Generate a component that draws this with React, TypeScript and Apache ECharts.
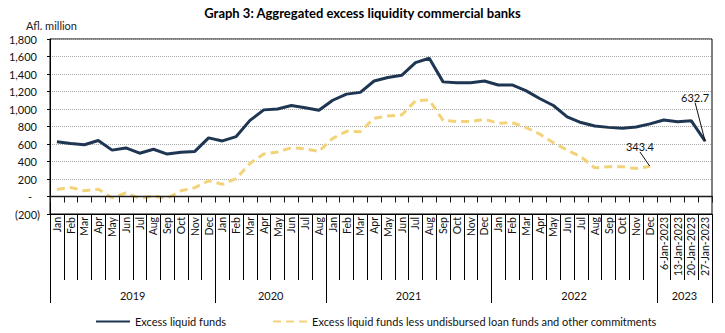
import React, { useEffect, useRef } from 'react';
import * as echarts from 'echarts';

const months2019 = ['Jan', 'Feb', 'Mar', 'Apr', 'May', 'Jun', 'Jul', 'Aug', 'Sep', 'Oct', 'Nov', 'Dec'];
const months2020 = ['Jan', 'Feb', 'Mar', 'Apr', 'May', 'Jun', 'Jul', 'Aug'];
const months2021 = ['Jan', 'Feb', 'Mar', 'Apr', 'May', 'Jun', 'Jul', 'Aug', 'Sep', 'Oct', 'Nov', 'Dec'];
const months2022 = ['Jan', 'Feb', 'Mar', 'Apr', 'May', 'Jun', 'Jul', 'Aug', 'Sep', 'Oct', 'Nov', 'Dec'];
const weeks2023 = ['6-Jan-2023', '13-Jan-2023', '20-Jan-2023', '27-Jan-2023'];

const yearNames = ['2019', '2020', '2021', '2022', '2023'];
const yearGroups = [months2019, months2020, months2021, months2022, weeks2023];

const categories = ([] as string[]).concat(...yearGroups);

const excessLiquidFunds = [
  625, 607, 592, 640, 530, 555, 495, 540, 485, 505, 515, 670,
  635, 685, 870, 990, 1000, 1040, 1015, 985,
  1100, 1170, 1190, 1320, 1360, 1385, 1530, 1580, 1310, 1300, 1300, 1320,
  1275, 1275, 1210, 1120, 1040, 910, 845, 805, 790, 780, 795, 830,
  875, 855, 865, 632.7,
];

const excessLessCommitments = [
  80, 103, 65, 84, -15, 40, -20, 5, -20, 65, 100, 180,
  140, 205, 378, 485, 508, 557, 546, 516,
  665, 745, 741, 894, 921, 932, 1093, 1104, 870, 856, 856, 883,
  837, 844, 791, 714, 615, 531, 454, 328, 340, 340, 321, 343.4,
];

const NAVY = '#1f3653';
const YELLOW = '#f3d37a';
const FONT = 'Lato, "Open Sans", "Noto Sans", sans-serif';

const fmtNum = (v: number) => v.toLocaleString('en-US');

export default function App() {
  const ref = useRef<HTMLDivElement>(null);

  useEffect(() => {
    if (!ref.current) return;
    const chart = echarts.init(ref.current, null, { renderer: 'svg' });

    // year group boundaries and centres, in month-slot units
    const boundaries: number[] = [0];
    yearGroups.forEach((g) => boundaries.push(boundaries[boundaries.length - 1] + g.length));
    const centers = yearGroups.map((g, i) => boundaries[i] + g.length / 2);
    const total = boundaries[boundaries.length - 1];

    const labelItem = (arr: number[]) =>
      arr.map((v, i) =>
        i === arr.length - 1
          ? {
              value: v,
              symbol: 'circle',
              symbolSize: 1,
              label: { show: true, position: 'top', fontSize: 11, color: '#111', fontFamily: FONT },
            }
          : v
      );

    const option: any = {
      animation: false,
      textStyle: { fontFamily: FONT },
      title: [
        {
          text: 'Graph 3: Aggregated excess liquidity commercial banks',
          left: 'center',
          top: 1,
          textStyle: { fontSize: 13, fontWeight: 'bold', color: '#000', fontFamily: FONT },
        },
        {
          text: 'Afl. million',
          left: 21,
          top: 15,
          textStyle: { fontSize: 11, fontWeight: 'normal', color: '#222', fontFamily: FONT },
        },
      ],
      grid: {
        left: 50,
        right: 13,
        top: 39,
        bottom: 119,
        show: true,
        borderColor: '#000',
        borderWidth: 1,
        backgroundColor: 'transparent',
      },
      legend: {
        left: 90,
        top: 311,
        itemWidth: 34,
        itemHeight: 10,
        itemGap: 46,
        itemStyle: { opacity: 0 },
        textStyle: { fontSize: 11, color: '#111', fontFamily: FONT },
        data: ['Excess liquid funds', 'Excess liquid funds less undisbursed loan funds and other commitments'],
      },
      xAxis: [
        {
          type: 'category',
          data: categories,
          boundaryGap: true,
          position: 'bottom',
          axisLine: { onZero: true, lineStyle: { color: '#1a1a1a', width: 1.3 } },
          axisTick: { show: true, interval: 0, length: 6, lineStyle: { color: '#1a1a1a' } },
          axisLabel: { show: false },
          splitLine: { show: false },
          z: 5,
        },
        {
          type: 'category',
          data: categories,
          boundaryGap: true,
          position: 'bottom',
          axisLine: { onZero: false, lineStyle: { color: '#000', width: 1 } },
          axisTick: { show: true, interval: 0, length: 66, lineStyle: { color: '#000' } },
          axisLabel: { interval: 0, rotate: 90, fontSize: 10.5, color: '#111', margin: 3, fontFamily: FONT },
          splitLine: { show: false },
        },
        {
          type: 'value',
          min: 0,
          max: total,
          position: 'bottom',
          offset: 66,
          axisLine: { show: false, onZero: false },
          axisTick: { show: true, customValues: boundaries, length: 23, lineStyle: { color: '#000' } },
          axisLabel: {
            customValues: centers,
            formatter: (v: number) => {
              const idx = centers.findIndex((c) => Math.abs(c - v) < 1e-6);
              return idx >= 0 ? yearNames[idx] : '';
            },
            fontSize: 11,
            color: '#111',
            margin: 10,
            fontFamily: FONT,
          },
          splitLine: { show: false },
        },
      ],
      yAxis: {
        type: 'value',
        min: -200,
        max: 1800,
        interval: 200,
        axisLine: { show: true, onZero: false, lineStyle: { color: '#000' } },
        axisTick: { show: true, length: 3, lineStyle: { color: '#000' } },
        axisLabel: {
          margin: 10,
          fontSize: 11,
          color: '#111',
          fontFamily: FONT,
          formatter: (v: number) =>
            v === 0 ? '{z|-}' : v < 0 ? `{n|(${fmtNum(-v)})}` : `{p|${fmtNum(v)}}`,
          rich: {
            p: { padding: [0, 3, 0, 0], fontSize: 11, color: '#111', fontFamily: FONT },
            z: { padding: [0, 8, 0, 0], fontSize: 11, color: '#111', fontFamily: FONT },
            n: { fontSize: 11, color: '#111', fontFamily: FONT },
          },
        },
        splitLine: { show: true, lineStyle: { type: 'dotted', color: '#a8a8a8', width: 1 } },
      },
      series: [
        {
          name: 'Excess liquid funds',
          type: 'line',
          xAxisIndex: 0,
          yAxisIndex: 0,
          data: labelItem(excessLiquidFunds),
          symbol: 'none',
          showSymbol: true,
          lineStyle: { color: NAVY, width: 3 },
          itemStyle: { color: NAVY },
          labelLayout: { dx: -10, dy: -33 },
          labelLine: { show: true, lineStyle: { color: '#111', width: 1 } },
          z: 4,
        },
        {
          name: 'Excess liquid funds less undisbursed loan funds and other commitments',
          type: 'line',
          xAxisIndex: 0,
          yAxisIndex: 0,
          data: labelItem(excessLessCommitments),
          symbol: 'none',
          showSymbol: true,
          lineStyle: { color: YELLOW, width: 3, type: [8, 5] },
          itemStyle: { color: YELLOW },
          labelLayout: { dx: -10, dy: -9 },
          labelLine: { show: true, lineStyle: { color: '#111', width: 1 } },
          z: 3,
        },
      ],
    };

    chart.setOption(option);
    return () => chart.dispose();
  }, []);

  return <div ref={ref} style={{ width: 725, height: 333, position: 'absolute', left: 0, top: 0 }} />;
}
